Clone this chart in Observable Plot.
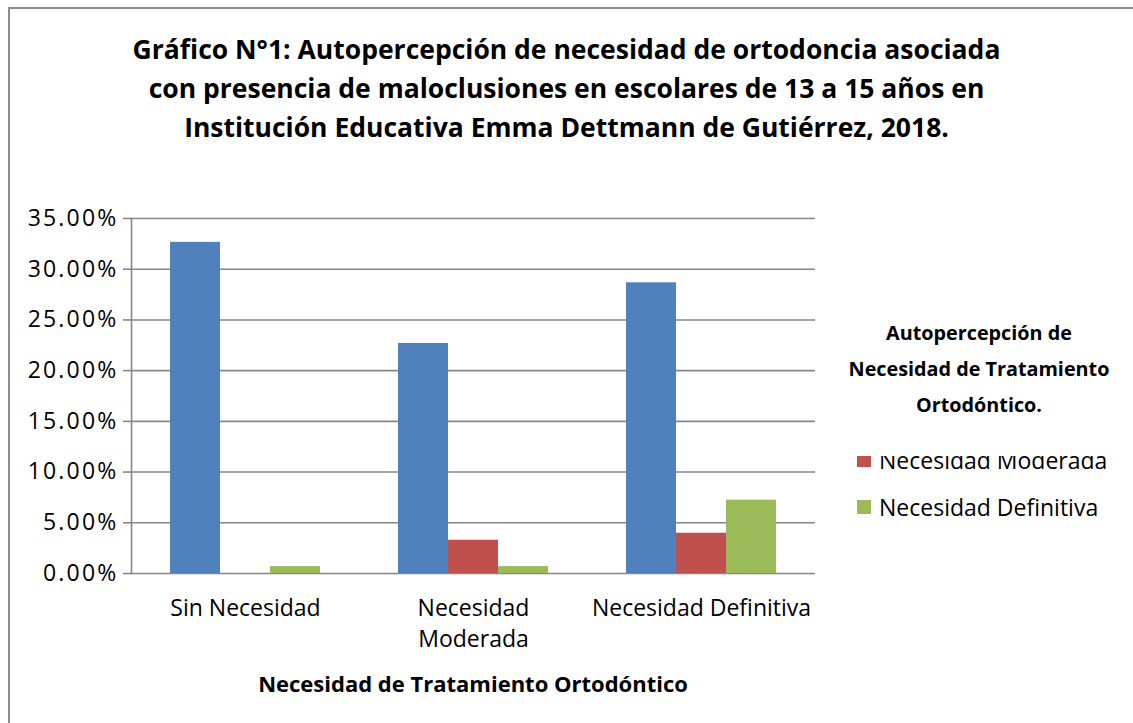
<!DOCTYPE html>
<html><head><meta charset="utf-8">
<script src="https://cdn.jsdelivr.net/npm/d3@7"></script>
<script src="https://cdn.jsdelivr.net/npm/@observablehq/plot@0.6"></script>
<style>
html,body{margin:0;padding:0;width:1133px;height:723px;overflow:hidden;background:#fff;font-family:"Open Sans",sans-serif;color:#000;}
#frame{position:absolute;left:8px;top:7px;width:1300px;height:900px;border:2px solid #8c8c8c;}
#title{position:absolute;left:0;width:1133px;top:30px;text-align:center;font-weight:bold;font-size:26.5px;line-height:39px;}
#chart{position:absolute;left:0;top:200px;}
#chart g[aria-label="y-axis tick label"] text{letter-spacing:2.2px;}
#xtitle{position:absolute;left:131px;width:684px;top:668px;text-align:center;font-weight:bold;font-size:22px;line-height:30px;}
#legend-title{position:absolute;left:830px;width:298px;top:315px;text-align:center;font-weight:bold;font-size:19.8px;line-height:36px;}
#legend{position:absolute;left:850px;top:456px;width:283px;height:70px;overflow:hidden;}
.item{position:absolute;left:7px;height:28px;display:flex;align-items:center;font-size:23px;line-height:28px;white-space:nowrap;}
.sw{width:14px;height:14px;margin-right:8px;}
</style>
</head><body>
<div id="frame"></div>
<div id="title">Gráfico N°1: Autopercepción de necesidad de ortodoncia asociada<br>con presencia de maloclusiones en escolares de 13 a 15 años en<br>Institución Educativa Emma Dettmann de Gutiérrez, 2018.</div>
<div id="chart"></div>
<div id="xtitle">Necesidad de Tratamiento Ortodóntico</div>
<div id="legend-title">Autopercepción de<br>Necesidad de Tratamiento<br>Ortodóntico.</div>
<div id="legend"></div>
<script>
const categories = ["Sin Necesidad", "Necesidad Moderada", "Necesidad Definitiva"];
const categoryLabels = ["Sin Necesidad", "Necesidad\nModerada", "Necesidad Definitiva"];
const series = ["Sin Necesidad", "Necesidad Moderada", "Necesidad Definitiva"];
const sinNecesidad = [32.65, 22.68, 28.66];
const necesidadModerada = [0, 3.28, 3.97];
const necesidadDefinitiva = [0.68, 0.68, 7.23];
const yTicks = [0, 5, 10, 15, 20, 25, 30, 35];
const colors = ["#4F81BD", "#C0504D", "#9BBB59"];
const legendShown = ["Necesidad Moderada", "Necesidad Definitiva"];

const seriesValues = [sinNecesidad, necesidadModerada, necesidadDefinitiva];
const rows = [];
categories.forEach((c, i) => series.forEach((s, j) => rows.push({category: c, series: s, value: seriesValues[j][i]})));

const gridColor = "#878787";
const chart = Plot.plot({
  width: 830,
  height: 510,
  marginTop: 18,
  marginLeft: 131,
  marginRight: 15,
  marginBottom: 137,
  style: {fontFamily: "Open Sans", fontSize: "23px", color: "#000", background: "transparent"},
  fx: {domain: categories, padding: 0, label: null},
  x: {domain: series, paddingInner: 0, paddingOuter: 0.765, axis: null},
  y: {domain: [0, 35], axis: null},
  color: {domain: series, range: colors},
  marks: [
    Plot.ruleY(yTicks, {stroke: gridColor, strokeWidth: 1.6}),
    Plot.barY(rows, {fx: "category", x: "series", y: "value", fill: "series"}),
    Plot.frame({anchor: "left", facetAnchor: "left", stroke: gridColor, strokeWidth: 1.6}),
    Plot.axisY(yTicks, {tickSize: 8, tickPadding: 5, stroke: gridColor, strokeWidth: 1.6, tickFormat: d => d.toFixed(2) + "%", label: null, fontSize: 23}),
    Plot.axisFx({anchor: "bottom", tickSize: 0, tickPadding: 20, lineHeight: 1.35, fontSize: 23, label: null,
      tickFormat: d => categoryLabels[categories.indexOf(d)]})
  ]
});
document.getElementById("chart").appendChild(chart);

const legend = d3.select("#legend");
legendShown.forEach((s, k) => {
  const item = legend.append("div").attr("class", "item").style("top", (-10 + 47 * k) + "px");
  item.append("div").attr("class", "sw").style("background", colors[series.indexOf(s)]);
  item.append("span").text(s);
});
</script>
</body></html>
